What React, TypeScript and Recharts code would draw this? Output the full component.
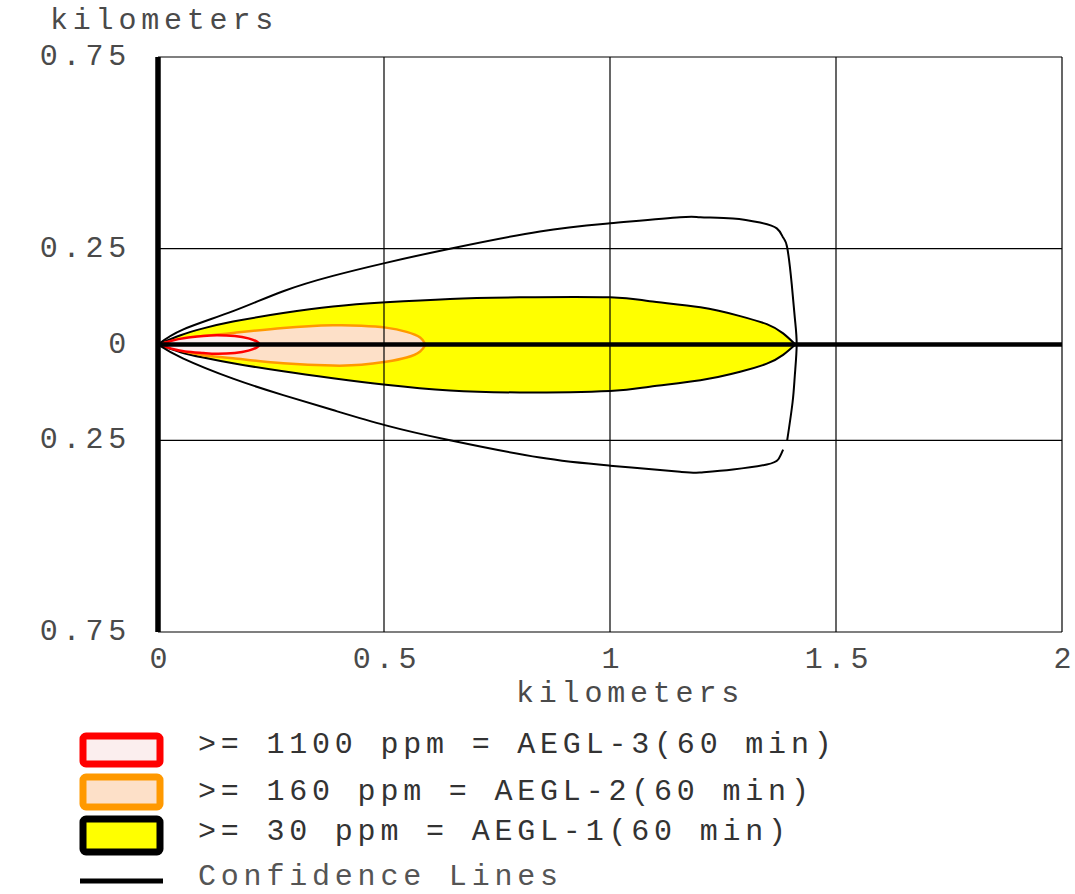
import { ComposedChart, Area, Line, XAxis, YAxis, ReferenceLine } from "recharts";

// AEGL-1 (yellow) threat zone, km
const aegl1X = [0, 0.05, 0.1, 0.166, 0.277, 0.387, 0.504, 0.646, 0.8, 1.0, 1.088, 1.2, 1.288, 1.347, 1.383, 1.41];
const aegl1Hi = [0, 0.024, 0.042, 0.06, 0.082, 0.099, 0.11, 0.119, 0.123, 0.123, 0.113, 0.097, 0.074, 0.053, 0.029, 0];
const aegl1Lo = [0, -0.02, -0.034, -0.049, -0.07, -0.088, -0.105, -0.12, -0.125, -0.121, -0.11, -0.093, -0.071, -0.05, -0.027, 0];

// AEGL-2 (orange)
const aegl2X = [0, 0.05, 0.1, 0.166, 0.277, 0.387, 0.45, 0.504, 0.55, 0.58, 0.592];
const aegl2Hi = [0, 0.013, 0.022, 0.03, 0.043, 0.05, 0.049, 0.044, 0.033, 0.018, 0];
const aegl2Lo = [0, -0.016, -0.028, -0.036, -0.049, -0.055, -0.053, -0.045, -0.034, -0.018, 0];

// AEGL-3 (red)
const aegl3X = [0, 0.03, 0.06, 0.1, 0.13, 0.17, 0.2, 0.218, 0.226];
const aegl3Hi = [0, 0.01, 0.017, 0.022, 0.024, 0.022, 0.016, 0.008, 0];
const aegl3Lo = [0, -0.011, -0.018, -0.022, -0.024, -0.022, -0.016, -0.008, 0];

// confidence lines: upper branch running round the far end, and lower hook
const confUpperX = [0, 0.055, 0.166, 0.277, 0.387, 0.504, 0.646, 0.845, 1.0, 1.155, 1.2, 1.272, 1.332, 1.369, 1.383, 1.392, 1.402, 1.409, 1.413, 1.409, 1.404, 1.392];
const confUpperY = [0, 0.039, 0.087, 0.139, 0.179, 0.213, 0.25, 0.295, 0.316, 0.332, 0.332, 0.329, 0.318, 0.303, 0.279, 0.253, 0.158, 0.068, 0, -0.079, -0.15, -0.25];
const confLowerX = [0, 0.055, 0.166, 0.277, 0.387, 0.504, 0.646, 0.845, 1.0, 1.155, 1.2, 1.272, 1.347, 1.372, 1.383];
const confLowerY = [0, -0.036, -0.089, -0.132, -0.171, -0.211, -0.25, -0.295, -0.316, -0.332, -0.334, -0.326, -0.313, -0.3, -0.274];

const xTicks = [0, 0.5, 1, 1.5, 2];
const yTicks = [-0.75, -0.25, 0, 0.25, 0.75];
const gridX = [0.5, 1, 1.5, 2];
const gridY = [-0.75, -0.25, 0.25, 0.75];

const legendLabels = [
  ">= 1100 ppm = AEGL-3(60 min)",
  ">= 160 ppm = AEGL-2(60 min)",
  ">= 30 ppm = AEGL-1(60 min)",
  "Confidence Lines",
];

const zone = (xs: number[], lo: number[], hi: number[]) =>
  xs.map((x, i) => ({ x, range: [lo[i], hi[i]] }));
const path = (xs: number[], ys: number[]) => xs.map((x, i) => ({ x, y: ys[i] }));

const FONT = "'Liberation Mono', 'DejaVu Sans Mono', monospace";
const TEXT = "#4a4a4a";
const textStyle = { fontFamily: FONT, fontSize: 30, letterSpacing: 4.8, fill: TEXT };

const YTick = ({ y, payload }: any) => (
  <text x={131} y={y} textAnchor="end" dominantBaseline="central" style={textStyle}>
    {payload.value === 0 ? "0" : Math.abs(payload.value).toString()}
  </text>
);

const XTick = ({ x, payload }: any) => (
  <text x={x + 3} y={660} textAnchor="middle" dominantBaseline="central" style={textStyle}>
    {payload.value}
  </text>
);

const Legend = () => {
  const textY = [745, 792, 832, 877];
  const boxes = [
    { y: 733, h: 34, fill: "#fbeeee", stroke: "#ff0000" },
    { y: 774, h: 36, fill: "#fde0c8", stroke: "#ff9900" },
    { y: 816, h: 39, fill: "#ffff00", stroke: "#000000" },
  ];
  return (
    <svg width={1075} height={174} style={{ position: "absolute", left: 0, top: 720 }}>
      {boxes.map((b, i) => (
        <rect
          key={i}
          x={83}
          y={b.y - 720 + 3}
          width={77}
          height={b.h - 6}
          rx={3}
          fill={b.fill}
          stroke={b.stroke}
          strokeWidth={7}
        />
      ))}
      <line x1={80} x2={163} y1={881 - 720} y2={881 - 720} stroke="#000" strokeWidth={5} />
      {legendLabels.map((t, i) => (
        <text
          key={t}
          x={198}
          y={textY[i] - 720}
          dominantBaseline="central"
          style={{ ...textStyle, fill: i === 3 ? "#555" : "#333" }}
        >
          {t}
        </text>
      ))}
    </svg>
  );
};

export default function App() {
  return (
    <div style={{ position: "absolute", left: 0, top: 0, width: 1075, height: 894, background: "#fff" }}>
      <div
        style={{
          position: "absolute",
          left: 50,
          top: 4,
          fontFamily: FONT,
          fontSize: 30,
          letterSpacing: 4.8,
          color: TEXT,
        }}
      >
        kilometers
      </div>
      <ComposedChart width={1075} height={720} margin={{ top: 57, right: 13, left: 0, bottom: 0 }}>
        <XAxis
          type="number"
          dataKey="x"
          domain={[0, 2]}
          ticks={xTicks}
          height={88}
          axisLine={false}
          tickLine={false}
          tick={<XTick />}
          allowDataOverflow
          label={{
            content: () => (
              <text x={630} y={694} textAnchor="middle" dominantBaseline="central" style={textStyle}>
                kilometers
              </text>
            ),
          }}
        />
        <YAxis
          type="number"
          domain={[-0.75, 0.75]}
          ticks={yTicks}
          width={158}
          axisLine={false}
          tickLine={false}
          tick={<YTick />}
          allowDataOverflow
        />
        <Line
          data={path(confUpperX, confUpperY)}
          dataKey="y"
          type="natural"
          stroke="#000"
          strokeWidth={2}
          dot={false}
          isAnimationActive={false}
        />
        <Line
          data={path(confLowerX, confLowerY)}
          dataKey="y"
          type="natural"
          stroke="#000"
          strokeWidth={2}
          dot={false}
          isAnimationActive={false}
        />
        <Area
          data={zone(aegl1X, aegl1Lo, aegl1Hi)}
          dataKey="range"
          type="natural"
          fill="#ffff00"
          fillOpacity={1}
          stroke="#000"
          strokeWidth={2}
          isAnimationActive={false}
        />
        <Area
          data={zone(aegl2X, aegl2Lo, aegl2Hi)}
          dataKey="range"
          type="natural"
          fill="#fde0c8"
          fillOpacity={1}
          stroke="#ff9900"
          strokeWidth={2.5}
          isAnimationActive={false}
        />
        <Area
          data={zone(aegl3X, aegl3Lo, aegl3Hi)}
          dataKey="range"
          type="natural"
          fill="#fbeeee"
          fillOpacity={1}
          stroke="#ff0000"
          strokeWidth={2.5}
          isAnimationActive={false}
        />
        {gridX.map((v) => (
          <ReferenceLine key={`gx${v}`} x={v} stroke="#000" strokeWidth={1.2} />
        ))}
        {gridY.map((v) => (
          <ReferenceLine key={`gy${v}`} y={v} stroke="#000" strokeWidth={1.2} />
        ))}
        <ReferenceLine y={0} stroke="#000" strokeWidth={4.5} />
        <ReferenceLine x={0} stroke="#000" strokeWidth={5.5} />
      </ComposedChart>
      <Legend />
    </div>
  );
}
